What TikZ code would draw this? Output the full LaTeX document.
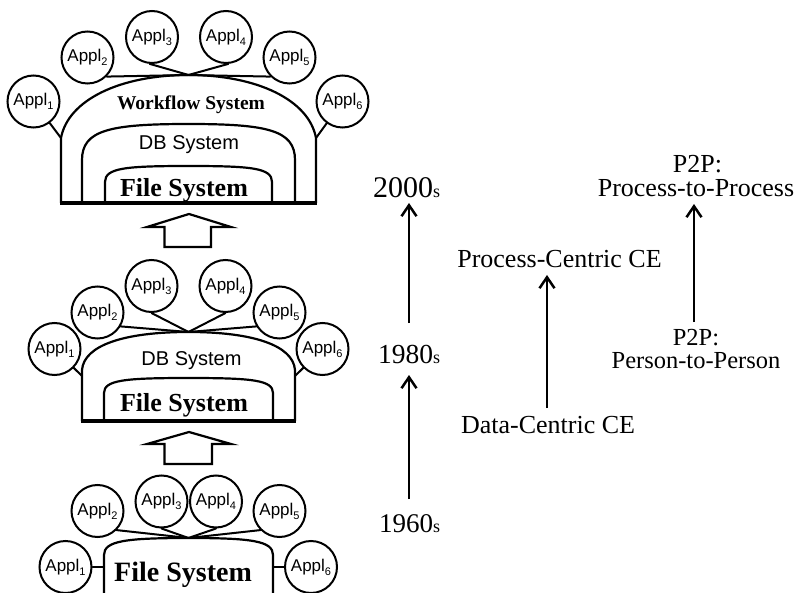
\documentclass[tikz,border=0pt]{standalone}
\usepackage{fontspec}
\setmainfont{Liberation Serif}
\setsansfont{Liberation Sans}
\usetikzlibrary{arrows.meta}

\newcommand\fsz[1]{\fontsize{#1}{#1}\selectfont}
\newcommand\ap[1]{Appl\raisebox{-4pt}{\fsz{11}#1}}

\tikzset{
  appl/.style={circle, draw, line width=2pt, minimum size=52pt, inner sep=0pt,
    font=\sffamily\fsz{17}},
  arch/.style={line width=2.2pt, line join=round},
  link/.style={line width=2pt, line cap=round},
  baseln/.style={line width=3.2pt},
  hollow/.style={line width=2.2pt, line join=miter},
  lbl/.style={inner sep=0pt, outer sep=0pt, anchor=base, text depth=0pt, text height=18pt},
  arr/.style={line width=2.5pt, -{Straight Barb[length=11pt,width=15pt]}}
}

\begin{document}
\begin{tikzpicture}[x=1pt, y=-1pt]
\useasboundingbox (0,0) rectangle (797,593);
\clip (0,0) rectangle (797,593);

% ---------- upper stack: workflow / DB / file system ----------
\draw[arch] (61,203) -- (61,138) .. controls (68,100) and (120,75) .. (188.5,75)
  .. controls (257,75) and (309,100) .. (316,138) -- (316,203);
\draw[arch] (82,203) -- (82,160) .. controls (82,130) and (110,124) .. (188.5,124)
  .. controls (267,124) and (295,130) .. (295,160) -- (295,203);
\draw[arch] (105,203) -- (105,182) .. controls (105,168) and (125,166) .. (188.5,166)
  .. controls (252,166) and (272,168) .. (272,182) -- (272,203);
\draw[baseln] (60,203) -- (317,203);
\coordinate (tTop) at (188.5,75);
\coordinate (tL) at (61,138);
\coordinate (tR) at (316,138);

\node[lbl, font=\bfseries\fsz{19.5}] (tWf) at (191,110) {Workflow System};
\node[lbl, font=\sffamily\fsz{20}] (tDb) at (189,150) {DB System};
\node[lbl, font=\bfseries\fsz{26}] (tFs) at (184,196.5) {File System};

\node[appl] (tA1) at (33.5,101.5) {\ap1};
\node[appl] (tA2) at (87.5,57.5) {\ap2};
\node[appl] (tA3) at (152,37) {\ap3};
\node[appl] (tA4) at (226,37) {\ap4};
\node[appl] (tA5) at (289.5,57.5) {\ap5};
\node[appl] (tA6) at (342.5,101.5) {\ap6};
\draw[link] (tA1) -- (tL);
\draw[link] (tA6) -- (tR);
\draw[link] (tA2.-45) -- (tTop);
\draw[link] (tA5.-135) -- (tTop);
\draw[link] (tA3.-95) -- (tTop);
\draw[link] (tA4.-85) -- (tTop);

% hollow arrow between upper and middle stacks
\draw[hollow] (189,214) -- (231,227) -- (211,227) -- (211,247) -- (164.5,247)
  -- (164.5,227) -- (147,227) -- cycle;

% ---------- middle stack: DB / file system ----------
\draw[arch] (82,421) -- (82,370) .. controls (84,345) and (125,332) .. (188.5,332)
  .. controls (252,332) and (293,345) .. (295,370) -- (295,421);
\draw[arch] (104,421) -- (104,393) .. controls (104,380) and (125,378) .. (188.5,378)
  .. controls (252,378) and (273,380) .. (273,393) -- (273,421);
\draw[baseln] (81,421) -- (296,421);
\coordinate (mTop) at (188.5,332);
\coordinate (mL) at (82,376);
\coordinate (mR) at (295,376);

\node[lbl, font=\sffamily\fsz{20}] (mDb) at (191.5,365) {DB System};
\node[lbl, font=\bfseries\fsz{26}] (mFs) at (184,411.7) {File System};

\node[appl] (mA1) at (54.5,349) {\ap1};
\node[appl] (mA2) at (97.5,312.5) {\ap2};
\node[appl] (mA3) at (151.5,286) {\ap3};
\node[appl] (mA4) at (225.5,286) {\ap4};
\node[appl] (mA5) at (279.5,312.5) {\ap5};
\node[appl] (mA6) at (322.5,349) {\ap6};
\draw[link] (mA1) -- (mL);
\draw[link] (mA6) -- (mR);
\draw[link] (mA2.-31) -- (mTop);
\draw[link] (mA5.-149) -- (mTop);
\draw[link] (mA3.south) -- (mTop);
\draw[link] (mA4.south) -- (mTop);

% hollow arrow between middle and lower stacks
\draw[hollow] (189,432) -- (231,444) -- (212,444) -- (212,464) -- (164.5,464)
  -- (164.5,444) -- (147,444) -- cycle;

% ---------- lower stack: file system only ----------
\draw[arch] (104,600) -- (104,555) .. controls (104,541) and (125,538) .. (188.5,538)
  .. controls (252,538) and (273,541) .. (273,555) -- (273,600);
\coordinate (bTop) at (188.5,538);
\coordinate (bL) at (104,567);
\coordinate (bR) at (273,567);

\node[lbl, font=\bfseries\fsz{28}] (bFs) at (183,581.7) {File System};

\node[appl] (bA1) at (65.5,567) {\ap1};
\node[appl] (bA2) at (97.5,511) {\ap2};
\node[appl] (bA3) at (161.5,501.5) {\ap3};
\node[appl] (bA4) at (216,501.5) {\ap4};
\node[appl] (bA5) at (279.5,511) {\ap5};
\node[appl] (bA6) at (311,567) {\ap6};
\draw[link] (bA1) -- (bL);
\draw[link] (bA6) -- (bR);
\draw[link] (bA2.-45) -- (bTop);
\draw[link] (bA5.-135) -- (bTop);
\draw[link] (bA3.south) -- (bTop);
\draw[link] (bA4.south) -- (bTop);

% ---------- time line ----------
\coordinate (yearcol) at (409,0);
\node[lbl, anchor=base west] (y2000) at (373,198) {\fsz{30}2000\fsz{18}s};
\node[lbl, anchor=base west] (y1980) at (378,363) {\fsz{27.5}1980\fsz{18}s};
\node[lbl, anchor=base west] (y1960) at (379,532) {\fsz{27}1960\fsz{18}s};
\draw[arr, shorten <=15pt, shorten >=12pt] (y1960.north -| yearcol) -- (y1980.south -| yearcol);
\draw[arr, shorten <=22pt, shorten >=5pt] (y1980.north -| yearcol) -- (y2000.south -| yearcol);

% ---------- computing environments ----------
\coordinate (cecol) at (547,0);
\node[lbl, font=\fsz{26}] (pce) at (559.5,268) {Process-Centric CE};
\node[lbl, font=\fsz{26}] (dce) at (548,433) {Data-Centric CE};
\draw[arr, shorten <=7pt, shorten >=7pt] (dce.north -| cecol) -- (pce.south -| cecol);

% ---------- P2P ----------
\coordinate (pcol) at (694,0);
\node[lbl, font=\fsz{26}] (pTopHd) at (697.5,173) {P2P:};
\node[lbl, font=\fsz{26}] (pProc) at (696,197) {Process-to-Process};
\node[inner sep=0pt, outer sep=0pt, anchor=north, align=center,
      font=\fontsize{24.5}{23}\selectfont] (pPers) at (696,329.5) {P2P:\\Person-to-Person};
\draw[arr, shorten <=7.5pt, shorten >=7pt] (pPers.north -| pcol) -- (pProc.south -| pcol);
\end{tikzpicture}
\end{document}
